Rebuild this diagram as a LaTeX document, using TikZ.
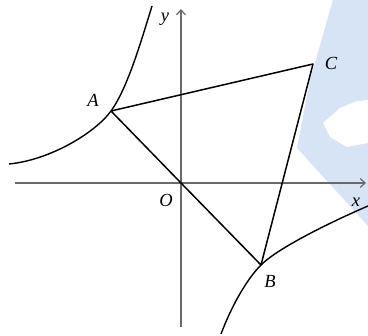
\documentclass[tikz,border=0pt]{standalone}
\usepackage{fontspec}
\setmainfont{Liberation Serif}
\usetikzlibrary{arrows.meta}
\definecolor{wm}{RGB}{214,228,245}
\definecolor{axisgray}{RGB}{105,105,105}
\tikzset{
  axisline/.style={draw=axisgray,line width=2.3pt,-{Straight Barb[length=5pt,width=9pt,line width=1.2pt]}},
  curveline/.style={draw=black,line width=1.4pt},
  segline/.style={draw=black,line width=1.5pt},
  lbl/.style={font=\fontsize{18.5}{18.5}\selectfont\itshape,inner sep=0pt},
}
\begin{document}
\begin{tikzpicture}[x=1pt,y=-1pt]
\useasboundingbox (0,0) rectangle (368,336);
% watermark
\fill[wm] (333,0) -- (368,0) -- (368,226) -- (297,148) -- (310,80) -- cycle;
\fill[white] (323,123) -- (340,108) -- (357,101) -- (368,100) -- (368,143) -- (347,147) -- (330,137) -- cycle;
% axes
\coordinate (xs) at (15,183);
\coordinate (xe) at (366,183);
\coordinate (ys) at (181,327);
\coordinate (ye) at (181,9);
\draw[axisline] (xs) -- (xe);
\draw[axisline] (ys) -- (ye);
% points
\coordinate (O) at (181,183);
\coordinate (A) at (111,111);
\coordinate (B) at (261,265);
\coordinate (C) at (313,64);
\coordinate (L1) at (152,6);
\coordinate (L2) at (9,164);
\coordinate (R1) at (368,206);
\coordinate (R2) at (221,334);
% curves
\draw[curveline] (L1) .. controls (140,45) and (127,89) .. (A)
                      .. controls (95,133) and (50,160) .. (L2);
\draw[curveline] (R1) .. controls (340,218) and (280,246) .. (B)
                      .. controls (245,281) and (230,310) .. (R2);
\draw[segline,line join=round] (A) -- (C) -- (B) -- (O) -- (A);
% labels
\node[lbl] (lA) at (93,100) {A};
\node[lbl] (lB) at (270,281) {B};
\node[lbl] (lC) at (331,63) {C};
\node[lbl] (lO) at (166,200) {O};
\node[lbl] (lx) at (356,202) {x};
\node[lbl] (ly) at (165,19) {y};
\end{tikzpicture}
\end{document}
